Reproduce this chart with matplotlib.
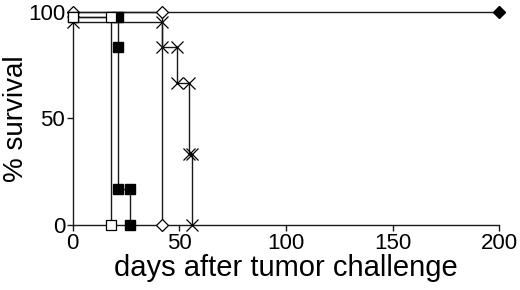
import matplotlib
matplotlib.use("Agg")
import matplotlib.pyplot as plt

plt.rcParams['font.family'] = ['Liberation Sans', 'DejaVu Sans']

# Survival step curves (vertices of each step path: days, % survival)
filled_diamond_x = [0, 200]
filled_diamond_y = [100, 100]

open_diamond_x = [0, 42, 42]
open_diamond_y = [100, 100, 0]

open_square_x = [0, 18, 18]
open_square_y = [97.7, 97.7, 0]

filled_square_x = [0, 21, 21, 21, 27, 27]
filled_square_y = [97.7, 97.7, 83.3, 16.7, 16.7, 0]

cross_x = [0, 42, 42, 49, 49, 54.5, 54.5, 56, 56]
cross_y = [95.3, 95.3, 83.3, 83.3, 66.7, 66.7, 33.3, 33.3, 0]

x_ticks = [0, 50, 100, 150, 200]
y_ticks = [0, 50, 100]

fig = plt.figure(figsize=(5.2, 2.9), dpi=100)
ax = fig.add_axes([0.140, 0.224, 0.820, 0.735])

lc = '#1a1a1a'
ax.plot(filled_diamond_x, filled_diamond_y, color=lc, lw=1.0, clip_on=False, zorder=2)
ax.plot(filled_diamond_x[-1:], filled_diamond_y[-1:], 'D', color='black', ms=6, clip_on=False, zorder=5)

ax.plot(open_diamond_x, open_diamond_y, color=lc, lw=1.0, marker='D', ms=6,
        mfc='white', mec='black', mew=0.9, clip_on=False, zorder=4)
ax.plot(cross_x, cross_y, color=lc, lw=1.0, marker='x', ms=8,
        mec='black', mew=0.9, clip_on=False, zorder=3)
ax.plot(filled_square_x, filled_square_y, color=lc, lw=1.0, marker='s', ms=6.5,
        mfc='black', mec='black', clip_on=False, zorder=4)
ax.plot(open_square_x, open_square_y, color=lc, lw=1.0, marker='s', ms=6.5,
        mfc='white', mec='black', mew=0.9, clip_on=False, zorder=4)

ax.set_xlim(0, 200)
ax.set_ylim(0, 100)
ax.set_xticks(x_ticks)
ax.set_yticks(y_ticks)
ax.spines['top'].set_visible(False)
ax.spines['right'].set_visible(False)
for s in ['left', 'bottom']:
    ax.spines[s].set_linewidth(1.0)
    ax.spines[s].set_color(lc)
ax.tick_params(axis='both', direction='out', length=4, width=1.0, color=lc,
               labelsize=16, pad=1.5)
ax.set_xlabel('days after tumor challenge', fontsize=21, labelpad=0)
ax.set_ylabel('% survival', fontsize=20)
ax.yaxis.set_label_coords(-0.103, 0.5)

fig.savefig('out.png', dpi=100)
